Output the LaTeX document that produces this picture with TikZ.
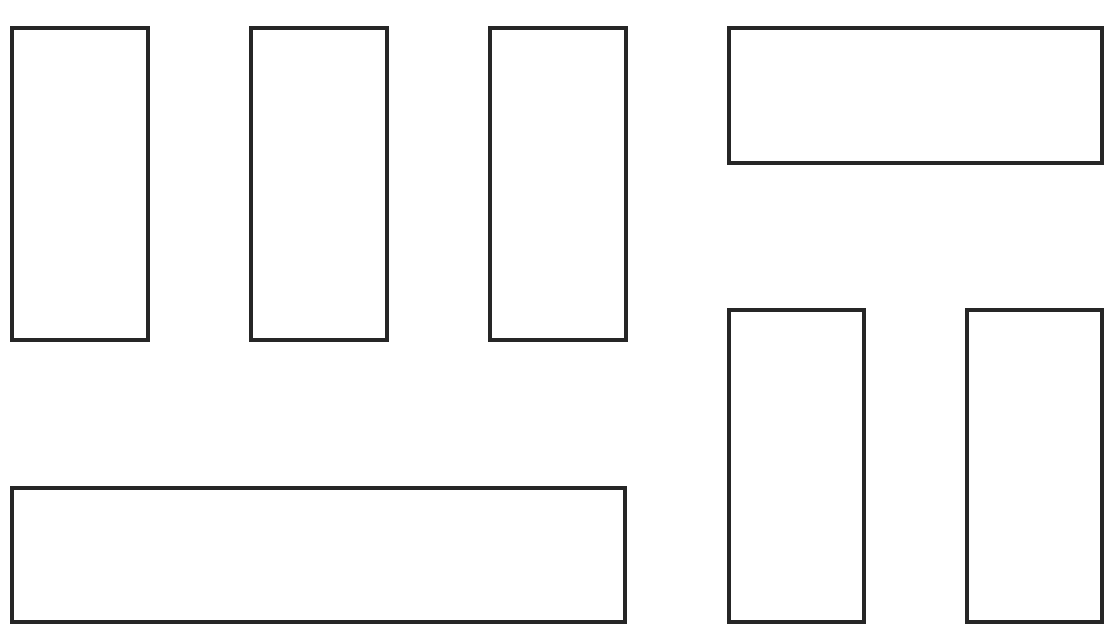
\documentclass[tikz,border=0pt]{standalone}
\begin{document}
\begin{tikzpicture}[x=0.01cm,y=-0.01cm,
  box/.style={draw=black!85,line width=0.9pt,fill=white}]
\useasboundingbox[fill=white] (0,0) rectangle (1120,626);
\draw[box] (12,28) rectangle (148,340);
\draw[box] (251,28) rectangle (387,340);
\draw[box] (490,28) rectangle (626,340);
\draw[box] (729,28) rectangle (1102,163);
\draw[box] (12,488) rectangle (625,622);
\draw[box] (729,310) rectangle (864,622);
\draw[box] (967,310) rectangle (1102,622);
\end{tikzpicture}
\end{document}
